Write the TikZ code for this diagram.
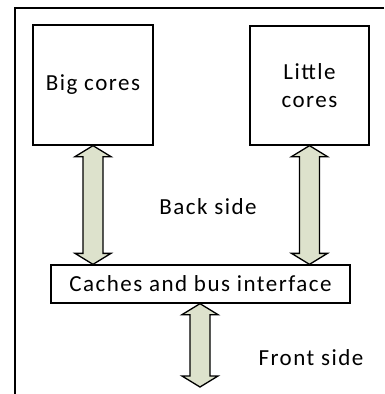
\documentclass[tikz,border=0pt]{standalone}
\usepackage{fontspec}
\setmainfont{Carlito}[LetterSpace=6.5]
\usetikzlibrary{calc}
\definecolor{arrowfill}{HTML}{DDE2CC}
\tikzset{
  box/.style={draw, line width=1.3pt, inner sep=0pt, align=center, font=\fontsize{23}{28}\selectfont},
  lbl/.style={inner sep=0pt, font=\fontsize{23}{28}\selectfont},
  fatarrow/.style={draw, line width=1.3pt, fill=arrowfill, line join=miter},
  frame/.style={line width=1.8pt}
}
\newcommand\bidiarrow[2]{%
  \draw[fatarrow] let \p1=(#1), \p2=(#2) in
    (\x1,\y1) -- (\x1+18pt,\y1-11pt) -- (\x1+10pt,\y1-11pt) -- (\x1+10pt,\y2+11pt)
    -- (\x1+18pt,\y2+11pt) -- (\x1,\y2) -- (\x1-18pt,\y2+11pt) -- (\x1-10pt,\y2+11pt)
    -- (\x1-10pt,\y1-11pt) -- (\x1-18pt,\y1-11pt) -- cycle;}
\begin{document}
\begin{tikzpicture}[x=1pt,y=-1pt]
\useasboundingbox (0,0) rectangle (384,394);
\draw[frame] (384,8) -- (15,8) -- (15,394);
\node[box, minimum width=120pt, minimum height=120pt] (big) at (93,85) {Big cores};
\node[box, minimum width=119pt, minimum height=119pt] (little) at (309.5,85.5) {Little\\cores};
\node[box, minimum width=299pt, minimum height=38pt] (cache) at (200.5,284) {Caches and bus interface};
\node[lbl] (back) at (208,207) {Back side};
\node[lbl] (front) at (311,358) {Front side};
\coordinate (bus) at (200,387);
\coordinate (bigtop) at (big.south);
\coordinate (bigbot) at (bigtop |- cache.north);
\coordinate (littop) at (little.south);
\coordinate (litbot) at (littop |- cache.north);
\coordinate (fronttop) at (bus |- cache.south);
\bidiarrow{bigtop}{bigbot}
\bidiarrow{littop}{litbot}
\bidiarrow{fronttop}{bus}
\end{tikzpicture}
\end{document}
